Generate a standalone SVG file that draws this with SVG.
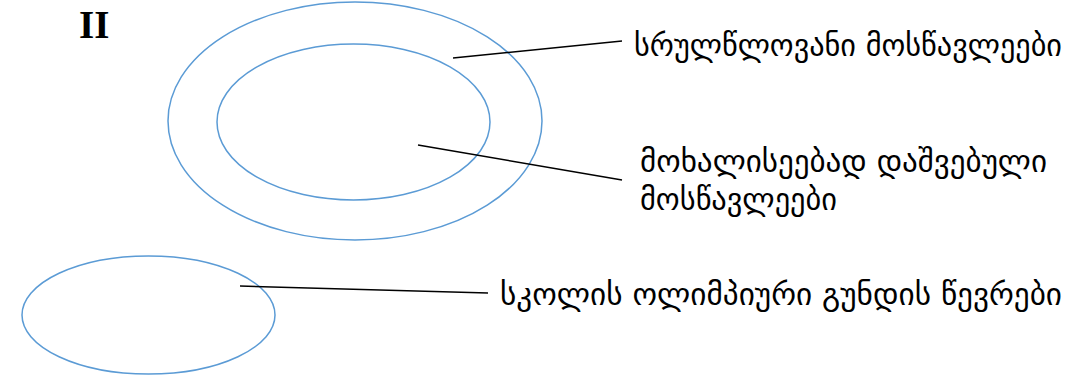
<svg xmlns="http://www.w3.org/2000/svg" width="1077" height="390" viewBox="0 0 1077 390">
<style>
.e{fill:none;stroke:#5B9BD5;stroke-width:1.5}
.l{stroke:#000;stroke-width:1.5}
.t{font-family:"DejaVu Sans","Noto Sans",sans-serif;font-size:31px;fill:#000}
</style>
<rect width="1077" height="390" fill="#fff"/>
<text x="79" y="38" font-family="Liberation Serif,serif" font-size="39" font-weight="bold">II</text>
<g id="outer"><ellipse class="e" cx="355" cy="121" rx="187" ry="119"/></g>
<g id="inner"><ellipse class="e" cx="353.5" cy="122" rx="136.5" ry="78"/></g>
<g id="bottom"><ellipse class="e" cx="148.5" cy="315" rx="126.5" ry="59"/></g>
<g id="connectors">
<line class="l" x1="453" y1="58" x2="622" y2="41"/>
<line class="l" x1="418" y1="145" x2="622" y2="180"/>
<line class="l" x1="240" y1="286" x2="488" y2="293"/>
</g>
<g id="labels">
<text class="t" x="634" y="56" textLength="428" lengthAdjust="spacingAndGlyphs">სრულწლოვანი მოსწავლეები</text>
<text class="t" x="640" y="172" textLength="407" lengthAdjust="spacingAndGlyphs">მოხალისეებად დაშვებული</text>
<text class="t" x="640" y="210" textLength="197" lengthAdjust="spacingAndGlyphs">მოსწავლეები</text>
<text class="t" x="500" y="305" textLength="562" lengthAdjust="spacingAndGlyphs">სკოლის ოლიმპიური გუნდის წევრები</text>
</g>
</svg>
